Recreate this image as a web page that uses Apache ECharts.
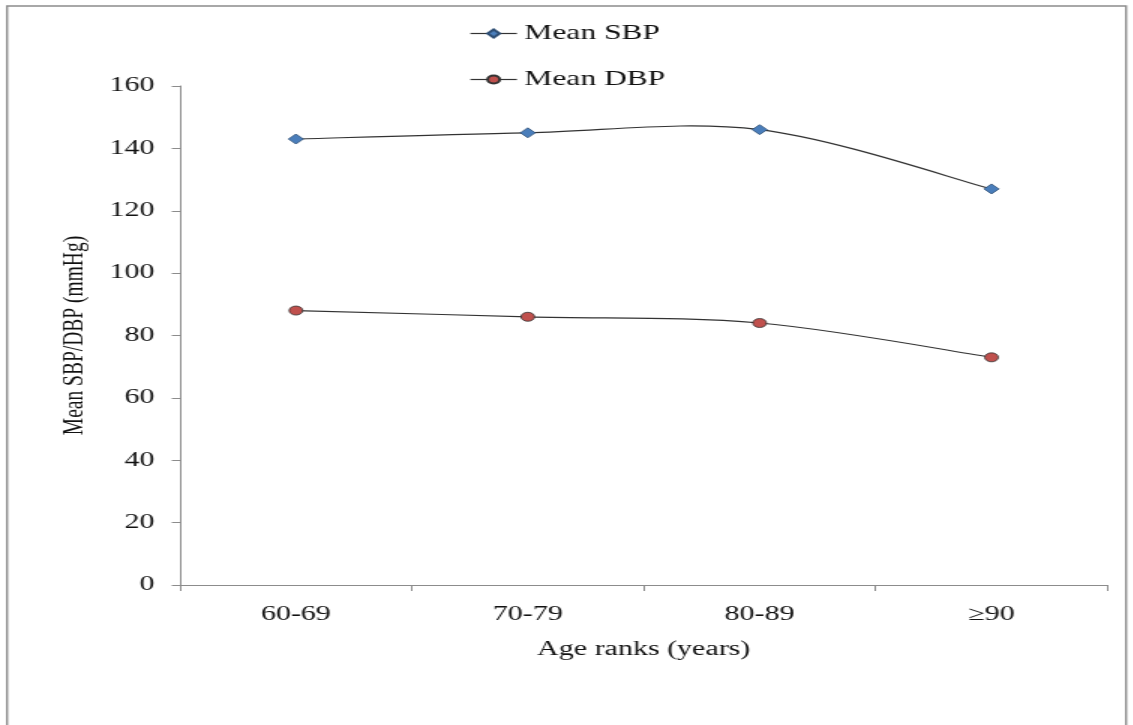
<!DOCTYPE html>
<html>
<head>
<meta charset="utf-8">
<script src="https://cdn.jsdelivr.net/npm/echarts@6/dist/echarts.min.js"></script>
<style>
  html, body { margin: 0; padding: 0; background: #fff; overflow: hidden; }
  /* the reference is stretched sideways, so draw narrow and widen it */
  #chart {
    width: 755.33px;
    height: 725px;
    transform: scaleX(1.5);
    transform-origin: 0 0;
  }
</style>
</head>
<body>
<div id="chart"></div>
<script>
var categories = ['60-69', '70-79', '80-89', '\u226590']
var meanSBP = [143, 145, 146, 127]
var meanDBP = [88, 86, 84, 73]
var yTicks = { min: 0, max: 160, interval: 20 }

var serif = '"Liberation Serif", "Times New Roman", serif'
var axisGray = '#8c8c8c'
var lineColor = '#333'

// Excel style smoothed segment from point i to i+1 (Catmull-Rom as bezier)
function curveItem (values) {
  return function (params, api) {
    var i = params.dataIndex
    if (i >= values.length - 1) return null
    var n = values.length
    function pt (j) {
      j = Math.max(0, Math.min(n - 1, j))
      return api.coord([j, values[j]])
    }
    var p0 = pt(i - 1)
    var p1 = pt(i)
    var p2 = pt(i + 1)
    var p3 = pt(i + 2)
    return {
      type: 'bezierCurve',
      shape: {
        x1: p1[0],
        y1: p1[1],
        cpx1: p1[0] + (p2[0] - p0[0]) / 6,
        cpy1: p1[1] + (p2[1] - p0[1]) / 6,
        cpx2: p2[0] - (p3[0] - p1[0]) / 6,
        cpy2: p2[1] - (p3[1] - p1[1]) / 6,
        x2: p2[0],
        y2: p2[1]
      },
      style: { stroke: lineColor, lineWidth: 1.2, fill: null }
    }
  }
}

var myChart = echarts.init(document.getElementById('chart'))

var legendText = { fontFamily: serif, fontSize: 21, color: '#111' }
var legendLine = { color: lineColor, width: 1.2, opacity: 1 }

myChart.setOption({
  backgroundColor: '#fff',
  animation: false,
  graphic: [{
    type: 'rect',
    shape: { x: 4.7, y: 6, width: 746, height: 800 },
    style: { fill: 'none', stroke: axisGray, lineWidth: 1.4 },
    silent: true
  }],
  legend: [
    {
      data: ['Mean SBP'],
      left: 313,
      top: 23,
      padding: 0,
      itemWidth: 31,
      itemHeight: 10,
      lineStyle: legendLine,
      textStyle: legendText
    },
    {
      data: ['Mean DBP'],
      left: 313,
      top: 69,
      padding: 0,
      itemWidth: 31,
      itemHeight: 10,
      lineStyle: legendLine,
      textStyle: legendText
    }
  ],
  grid: {
    left: 120,
    right: 16.7,
    top: 86,
    bottom: 140,
    containLabel: false
  },
  xAxis: {
    type: 'category',
    data: categories,
    boundaryGap: true,
    name: 'Age ranks (years)',
    nameLocation: 'middle',
    nameGap: 55,
    nameTextStyle: { fontFamily: serif, fontSize: 20, color: '#111' },
    axisLine: { lineStyle: { color: axisGray, width: 1 } },
    axisTick: { show: true, length: 6, lineStyle: { color: axisGray } },
    axisLabel: { fontFamily: serif, fontSize: 20, color: '#111', margin: 20 },
    splitLine: { show: false }
  },
  yAxis: {
    type: 'value',
    min: yTicks.min,
    max: yTicks.max,
    interval: yTicks.interval,
    name: 'Mean SBP/DBP (mmHg)',
    nameLocation: 'middle',
    nameGap: 60,
    nameTextStyle: { fontFamily: serif, fontSize: 19.5, color: '#111' },
    axisLine: { show: true, lineStyle: { color: axisGray, width: 1 } },
    axisTick: { show: true, length: 5.5, lineStyle: { color: axisGray } },
    axisLabel: { fontFamily: serif, fontSize: 20, color: '#111', margin: 17 },
    splitLine: { show: false }
  },
  series: [
    {
      name: 'SBP curve',
      type: 'custom',
      data: meanSBP,
      renderItem: curveItem(meanSBP),
      z: 1,
      silent: true
    },
    {
      name: 'DBP curve',
      type: 'custom',
      data: meanDBP,
      renderItem: curveItem(meanDBP),
      z: 1,
      silent: true
    },
    {
      name: 'Mean SBP',
      type: 'line',
      data: meanSBP,
      z: 3,
      symbol: 'diamond',
      symbolSize: [10, 10],
      lineStyle: { color: lineColor, width: 1.2, opacity: 0 },
      itemStyle: { color: '#4a7ebb', borderColor: '#2f4f75', borderWidth: 0.8 }
    },
    {
      name: 'Mean DBP',
      type: 'line',
      data: meanDBP,
      z: 3,
      symbol: 'circle',
      symbolSize: [9, 9],
      lineStyle: { color: lineColor, width: 1.2, opacity: 0 },
      itemStyle: { color: '#c0504d', borderColor: '#333', borderWidth: 0.8 }
    }
  ]
})
</script>
</body>
</html>
